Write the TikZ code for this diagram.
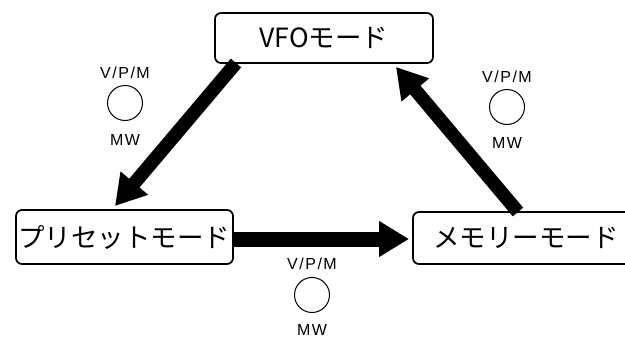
\documentclass[tikz,border=0pt]{standalone}
\usepackage{fontspec}
\setmainfont{Liberation Sans}
\newfontfamily\jp{Noto Sans CJK JP}
\usetikzlibrary{arrows.meta}
\newcommand{\vpm}{V\kern1.5pt/\kern1.5pt P\kern1.5pt/\kern1.5pt M}
\newcommand{\mwtext}{M\kern1.5pt W}
\begin{document}
\begin{tikzpicture}[x=1pt,y=-1pt,
  modebox/.style={draw, line width=1.7pt, rounded corners=6pt, font=\jp\fontsize{26.5}{28}\selectfont, inner sep=0pt},
  bigarrow/.style={line width=13.5pt, -{Triangle[length=30pt,width=34pt]}},
  knob/.style={draw, circle, line width=1pt, minimum size=35pt, inner sep=0pt},
  lbl/.style={font=\fontsize{16}{17}\selectfont, inner sep=0pt, anchor=base}]
\useasboundingbox (0,0) rectangle (625,338);
\clip (0,0) rectangle (625,338);
\node[modebox, minimum width=218pt, minimum height=50pt] (vfo) at (324,38) {VFOモード};
\node[modebox, minimum width=217pt, minimum height=54pt] (pre) at (124.5,237) {プリセットモード};
\node[modebox, minimum width=220pt, minimum height=52pt, text width=204pt, align=left] (mem) at (523,238) {\hspace*{12pt}メモリーモード};
% knobs
\node[knob] (k1) at (125,103) {};
\node[lbl] (k1t) at ([yshift=25pt]k1.center) {\vpm};
\node[lbl] (k1b) at ([yshift=-42pt]k1.center) {\mwtext};
\node[knob] (k2) at (507,107) {};
\node[lbl] (k2t) at ([yshift=25pt]k2.center) {\vpm};
\node[lbl] (k2b) at ([yshift=-41pt]k2.center) {\mwtext};
\node[knob] (k3) at (312,295) {};
\node[lbl] (k3t) at ([yshift=26pt]k3.center) {\vpm};
\node[lbl] (k3b) at ([yshift=-40pt]k3.center) {\mwtext};
% arrows
\coordinate (a1s) at (236,63);
\coordinate (a1e) at (115,206);
\coordinate (a2s) at (518,212);
\coordinate (a2e) at (396,67);
\coordinate (a3e) at (409,239);
\draw[bigarrow] (a1s) -- (a1e);
\draw[bigarrow] (a2s) -- (a2e);
\draw[bigarrow, line width=15pt] (pre.east |- a3e) -- (a3e);
\end{tikzpicture}
\end{document}
